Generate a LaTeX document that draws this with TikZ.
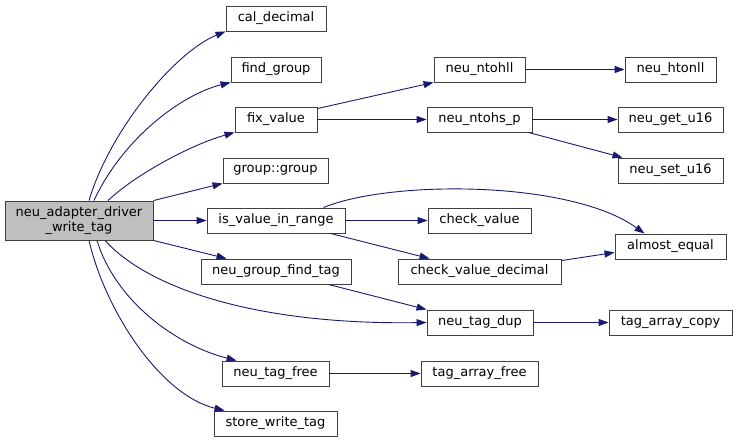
\documentclass[tikz,border=0pt]{standalone}
\usepackage{fontspec}
\setmainfont{DejaVu Sans}
\usetikzlibrary{arrows.meta}
\definecolor{edgeblue}{RGB}{25,25,112}
\definecolor{rootgray}{RGB}{191,191,191}
\definecolor{boxline}{RGB}{64,64,64}

\begin{document}
\begin{tikzpicture}[%
      x=1pt, y=-1pt,
      fnbox/.style={draw=boxline, line width=0.9pt, fill=white, inner sep=0pt,
        minimum height=25pt, font=\fontsize{13}{15}\selectfont},
      rootbox/.style={fnbox, fill=rootgray, minimum height=39pt, align=center},
      call/.style={color=edgeblue, line width=0.9pt, -{Triangle[length=10pt,width=7pt]}},
      ]
      \useasboundingbox (0,0) rectangle (737,443);

      \node [rootbox, minimum width=148pt] (root) at (79,220.5) {neu\_adapter\_driver\\\_write\_tag};

      \node [fnbox, minimum width=100pt] (caldecimal) at (276,18.5) {cal\_decimal};
      \node [fnbox, minimum width=90pt] (findgroup) at (276,69.5) {find\_group};
      \node [fnbox, minimum width=82pt] (fixvalue) at (276,119.5) {fix\_value};
      \node [fnbox, minimum width=105pt] (groupgroup) at (275.5,170.5) {group::group};
      \node [fnbox, minimum width=138pt] (isinrange) at (276,220.5) {is\_value\_in\_range};
      \node [fnbox, minimum width=150pt] (findtag) at (276,271.5) {neu\_group\_find\_tag};
      \node [fnbox, minimum width=107pt] (tagfree) at (275.5,373.5) {neu\_tag\_free};
      \node [fnbox, minimum width=123pt] (storetag) at (275.5,423.5) {store\_write\_tag};

      \node [fnbox, minimum width=91pt] (ntohll) at (479.5,69.5) {neu\_ntohll};
      \node [fnbox, minimum width=105pt] (ntohsp) at (479.5,119.5) {neu\_ntohs\_p};
      \node [fnbox, minimum width=103pt] (checkvalue) at (479.5,220.5) {check\_value};
      \node [fnbox, minimum width=163pt] (checkdecimal) at (479.5,271.5) {check\_value\_decimal};
      \node [fnbox, minimum width=106pt] (tagdup) at (480,322.5) {neu\_tag\_dup};
      \node [fnbox, minimum width=117pt] (arrayfree) at (479.5,373.5) {tag\_array\_free};

      \node [fnbox, minimum width=91pt] (htonll) at (670.5,69.5) {neu\_htonll};
      \node [fnbox, minimum width=105pt] (getu16) at (670.5,119.5) {neu\_get\_u16};
      \node [fnbox, minimum width=105pt] (setu16) at (670.5,170.5) {neu\_set\_u16};
      \node [fnbox, minimum width=111pt] (almostequal) at (670.5,246.5) {almost\_equal};
      \node [fnbox, minimum width=123pt] (arraycopy) at (670.5,322.5) {tag\_array\_copy};

      \draw [call] ([xshift=10pt]root.north) .. controls (110,130) and (175,52) .. (caldecimal.south west);
      \draw [call] ([xshift=15pt]root.north) .. controls (122,140) and (180,95) .. (findgroup.south west);
      \draw [call] ([xshift=29pt]root.north) .. controls (135,175) and (190,145) .. (fixvalue.south west);
      \draw [call] (root.north east) -- (groupgroup.south west);
      \draw [call] (root.east) -- (isinrange.west);
      \draw [call] (root.south east) -- ([xshift=26pt]findtag.north west);
      \draw [call] ([xshift=26pt]root.south) .. controls (150,290) and (260,325) .. (tagdup.west);
      \draw [call] ([xshift=18pt]root.south) .. controls (115,300) and (175,345) .. ([xshift=15pt]tagfree.north west);
      \draw [call] ([xshift=10pt]root.south) .. controls (105,310) and (160,395) .. ([xshift=11pt]storetag.north west);

      \draw [call] ([yshift=-2pt]fixvalue.north east) -- (ntohll.south west);
      \draw [call] (fixvalue.east) -- (ntohsp.west);
      \draw [call] (ntohll.east) -- (htonll.west);
      \draw [call] (ntohsp.east) -- (getu16.west);
      \draw [call] ([xshift=-4pt]ntohsp.south east) -- ([xshift=5pt]setu16.north west);

      \draw [call] ([xshift=-22pt]isinrange.north east) .. controls (390,180) and (570,180) .. ([xshift=30pt]almostequal.north west);
      \draw [call] (isinrange.east) -- (checkvalue.west);
      \draw [call] ([xshift=-15pt]isinrange.south east) -- ([xshift=32pt]checkdecimal.north west);
      \draw [call] ([yshift=-2pt]checkdecimal.north east) -- ([yshift=-6pt]almostequal.west);
      \draw [call] ([xshift=-23pt]findtag.south east) -- (tagdup.north west);
      \draw [call] (tagdup.east) -- (arraycopy.west);
      \draw [call] (tagfree.east) -- (arrayfree.west);
      \end{tikzpicture}
\end{document}
